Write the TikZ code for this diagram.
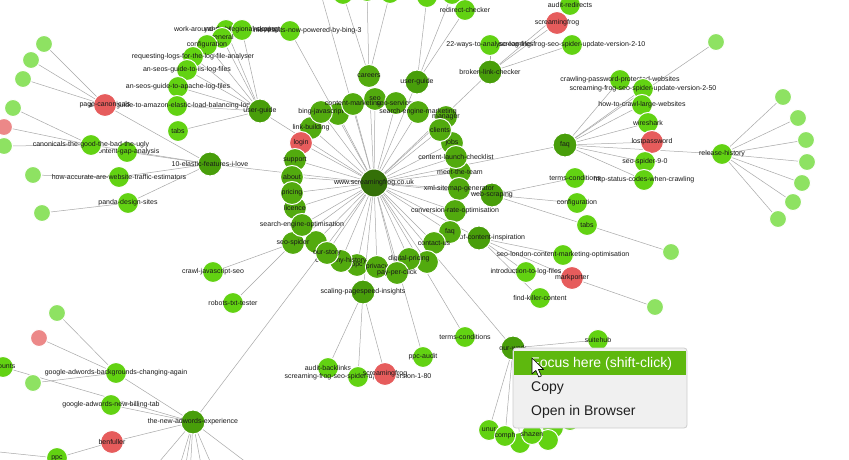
\documentclass[tikz,border=0pt]{standalone}
\usepackage{fontspec}
\setmainfont{Liberation Sans}
\definecolor{cdark}{RGB}{52,112,8}
\definecolor{cmid}{RGB}{72,158,10}
\definecolor{cring}{RGB}{82,170,14}
\definecolor{cbright}{RGB}{98,210,18}
\definecolor{cleaf}{RGB}{142,226,98}
\definecolor{cred}{RGB}{230,92,92}
\definecolor{cleafred}{RGB}{236,136,136}
\definecolor{cedge}{RGB}{168,168,168}
\definecolor{cmenu}{RGB}{240,240,240}
\definecolor{cmenuline}{RGB}{205,205,205}
\definecolor{cband}{RGB}{94,184,14}
\newcommand\GN[3]{\node[#2] (#1-c) at (#1) {}; \node[lbl] (#1-t) at (#1) {#3};}
\begin{document}
\begin{tikzpicture}[x=1pt,y=-1pt,
  gnbase/.style={circle, draw=white, line width=1pt, inner sep=0pt, minimum size=#1},
  ctr/.style={gnbase=28pt, fill=cdark},
  hub/.style={gnbase=24pt, fill=cmid},
  ring/.style={gnbase=23pt, fill=cring},
  kid/.style={gnbase=21pt, fill=cbright},
  leaf/.style={gnbase=17pt, fill=cleaf},
  redn/.style={gnbase=23pt, fill=cred},
  redleaf/.style={gnbase=17pt, fill=cleafred},
  lbl/.style={font=\fontsize{7}{8}\selectfont, inner sep=0pt, text=black!90},
  edge/.style={draw=cedge, line width=0.5pt},
  menutxt/.style={font=\fontsize{14}{16}\selectfont, inner sep=0pt, anchor=west}]
\useasboundingbox (0,0) rectangle (849,460);
\clip (0,0) rectangle (849,460);
\fill[white] (0,0) rectangle (849,460);
% ---------- coordinates ----------
\coordinate (C) at (374,183);
% ring
\coordinate (rLink) at (311,128);
\coordinate (rLogin) at (301,143);
\coordinate (rBingjs) at (321,112);
\coordinate (rHid1) at (338,114);
\coordinate (rCm) at (353,104);
\coordinate (rSeo) at (375,99);
\coordinate (rSeos) at (396,103);
\coordinate (rSem) at (418,112);
\coordinate (rMgr) at (446,117);
\coordinate (rClients) at (440,130);
\coordinate (rJobs) at (452,143);
\coordinate (rClc) at (456,157);
\coordinate (rMtt) at (460,172);
\coordinate (rXml) at (459,189);
\coordinate (rCro) at (455,211);
\coordinate (rFaq) at (450,232);
\coordinate (rContact) at (434,243);
\coordinate (rDp2) at (427,262);
\coordinate (rDp) at (409,259);
\coordinate (rPpc) at (397,273);
\coordinate (rPriv) at (377,267);
\coordinate (rPpcx) at (357,265);
\coordinate (rHist) at (341,261);
\coordinate (rStory) at (327,253);
\coordinate (rSs2) at (316,242);
\coordinate (rSs) at (293,243);
\coordinate (rSeoOpt) at (302,225);
\coordinate (rLic) at (295,208);
\coordinate (rPricing) at (292,193);
\coordinate (rAbout) at (292,177);
\coordinate (rSupport) at (295,160);
% hubs
\coordinate (careers) at (369,76);
\coordinate (ugTop) at (417,82);
\coordinate (blc) at (490,72);
\coordinate (faqR) at (565,145);
\coordinate (web) at (492,195);
\coordinate (coi) at (479,238);
\coordinate (tcB) at (465,337);
\coordinate (ppcAudit) at (423,357);
\coordinate (spi) at (363,292);
\coordinate (ourw) at (513,348);
\coordinate (nae) at (193,422);
\coordinate (tef) at (210,164);
\coordinate (ugL) at (260,111);
\coordinate (bing3) at (290,31);
\coordinate (t0) at (317,-20);
\coordinate (t1) at (343,-6);
\coordinate (t2) at (367,-9);
\coordinate (t3) at (390,-7);
\coordinate (t4) at (427,-3);
\coordinate (t5) at (452,-6);
\coordinate (rc) at (465,10);
% broken link checker kids
\coordinate (w22) at (490,45);
\coordinate (sfT) at (557,23);
\coordinate (v210) at (572,45);
\coordinate (ar) at (570,5);
% faq right kids
\coordinate (cpp) at (620,80);
\coordinate (v250) at (643,89);
\coordinate (hcl) at (642,105);
\coordinate (wire) at (648,123);
\coordinate (lost) at (652,142);
\coordinate (s90) at (645,162);
\coordinate (http) at (644,180);
\coordinate (rh) at (722,154);
\coordinate (lfT) at (716,42);
\coordinate (rl1) at (783,97);
\coordinate (rl2) at (798,118);
\coordinate (rl3) at (806,140);
\coordinate (rl4) at (807,162);
\coordinate (rl5) at (802,183);
\coordinate (rl6) at (793,202);
\coordinate (rl7) at (778,219);
% web scraping kids
\coordinate (tcR) at (575,178);
\coordinate (confR) at (577,203);
\coordinate (tabsR) at (587,225);
\coordinate (lTabs) at (671,252);
% content inspiration kids
\coordinate (seol) at (563,255);
\coordinate (itl) at (526,272);
\coordinate (mp) at (572,278);
\coordinate (lMp) at (655,307);
\coordinate (fkc) at (540,298);
% our work kids
\coordinate (suite) at (598,340);
\coordinate (unur) at (489,430);
\coordinate (comph) at (505,436);
\coordinate (b3) at (520,443);
\coordinate (shazen) at (532,434);
\coordinate (b5) at (553,428);
\coordinate (b6) at (548,440);
\coordinate (b7) at (570,420);
% pagespeed kids
\coordinate (ab) at (328,368);
\coordinate (v180) at (358,377);
\coordinate (sfB) at (385,374);
% user guide left kids
\coordinate (tabsL) at (178,131);
\coordinate (amazon) at (177,106);
\coordinate (apache) at (178,87);
\coordinate (iis) at (187,70);
\coordinate (req) at (193,57);
\coordinate (conf) at (207,45);
\coordinate (work) at (226,30);
\coordinate (gen) at (222,38);
\coordinate (yandex) at (242,30);
% elastic kids
\coordinate (pc) at (105,105);
\coordinate (pl1) at (44,44);
\coordinate (pl2) at (31,60);
\coordinate (pl3) at (23,79);
\coordinate (canon) at (91,145);
\coordinate (cl1) at (13,108);
\coordinate (cl2) at (4,127);
\coordinate (cl3) at (4,146);
\coordinate (cga) at (127,152);
\coordinate (hae) at (119,177);
\coordinate (hl1) at (33,175);
\coordinate (panda) at (128,203);
\coordinate (pdl1) at (42,213);
% seo spider kids
\coordinate (cjs) at (213,272);
\coordinate (robots) at (233,303);
% adwords cluster
\coordinate (gab) at (116,373);
\coordinate (gl1) at (57,313);
\coordinate (gl2) at (39,338);
\coordinate (gl3) at (33,383);
\coordinate (gnb) at (111,405);
\coordinate (benf) at (112,442);
\coordinate (ppcB) at (57,458);
\coordinate (nts) at (3,367);
\coordinate (o1) at (148,475);
\coordinate (o2) at (177,475);
\coordinate (o3) at (184,475);
\coordinate (o4) at (190,475);
\coordinate (o5) at (203,475);
\coordinate (o6) at (216,475);
\coordinate (o7) at (263,475);
\coordinate (o8) at (-20,450);
% ---------- edges ----------
\foreach \b in {rLink,rLogin,rBingjs,rHid1,rCm,rSeo,rSeos,rSem,rMgr,rClients,rJobs,rClc,rMtt,rXml,rCro,rFaq,rContact,rDp2,rDp,rPpc,rPriv,rPpcx,rHist,rStory,rSs2,rSs,rSeoOpt,rLic,rPricing,rAbout,rSupport,careers,ugTop,blc,faqR,web,coi,tcB,ppcAudit,spi,ourw,nae,tef,ugL,bing3,t0}
  {\draw[edge] (C) -- (\b);}
\foreach \a/\b in {careers/t1,careers/t2,careers/t3,ugTop/t4,ugTop/t5,ugTop/rc,
  blc/w22,blc/sfT,blc/v210,blc/ar,
  faqR/cpp,faqR/v250,faqR/hcl,faqR/wire,faqR/lost,faqR/s90,faqR/http,faqR/rh,faqR/lfT,
  rh/rl1,rh/rl2,rh/rl3,rh/rl4,rh/rl5,rh/rl6,rh/rl7,
  web/tcR,web/confR,web/tabsR,tabsR/lTabs,
  coi/seol,coi/itl,coi/mp,coi/fkc,mp/lMp,
  ourw/suite,ourw/unur,ourw/comph,ourw/b3,ourw/shazen,ourw/b5,ourw/b6,ourw/b7,
  spi/ab,spi/v180,spi/sfB,
  ugL/tabsL,ugL/amazon,ugL/apache,ugL/iis,ugL/req,ugL/conf,ugL/gen,ugL/work,ugL/yandex,
  tef/pc,tef/canon,tef/cga,tef/hae,tef/panda,
  pc/pl1,pc/pl2,pc/pl3,canon/cl1,canon/cl2,canon/cl3,hae/hl1,panda/pdl1,
  rSs/cjs,rSs/robots,
  nae/gab,nae/gnb,nae/benf,nae/nts,nae/o1,nae/o2,nae/o3,nae/o4,nae/o5,nae/o6,nae/o7,
  gab/gl1,gab/gl2,gab/gl3,benf/ppcB,ppcB/o8}
  {\draw[edge] (\a) -- (\b);}
% ---------- outer leaves ----------
\GN{pl1}{leaf}{} \GN{pl2}{leaf}{} \GN{pl3}{leaf}{}
\GN{cl1}{leaf}{} \GN{cl2}{redleaf}{} \GN{cl3}{leaf}{}
\GN{hl1}{leaf}{} \GN{pdl1}{leaf}{}
\GN{gl1}{leaf}{} \GN{gl2}{redleaf}{} \GN{gl3}{leaf}{}
\GN{lfT}{leaf}{} \GN{lTabs}{leaf}{} \GN{lMp}{leaf}{}
\GN{rl1}{leaf}{} \GN{rl2}{leaf}{} \GN{rl3}{leaf}{} \GN{rl4}{leaf}{}
\GN{rl5}{leaf}{} \GN{rl6}{leaf}{} \GN{rl7}{leaf}{}
% ---------- kids ----------
\GN{t1}{kid}{} \GN{t2}{kid}{} \GN{t3}{kid}{} \GN{t4}{kid}{} \GN{t5}{kid}{}
\GN{rc}{kid}{redirect-checker}
\GN{ar}{kid}{audit-redirects}
\GN{w22}{kid}{22-ways-to-analyse-log-files}
\GN{v210}{kid}{screaming-frog-seo-spider-update-version-2-10}
\GN{sfT}{redn}{screamingfrog}
\GN{cpp}{kid}{crawling-password-protected-websites}
\GN{v250}{kid}{screaming-frog-seo-spider-update-version-2-50}
\GN{hcl}{kid}{how-to-crawl-large-websites}
\GN{wire}{kid}{wireshark}
\GN{lost}{redn}{lostpassword}
\GN{s90}{kid}{seo-spider-9-0}
\GN{http}{kid}{http-status-codes-when-crawling}
\GN{rh}{kid}{release-history}
\GN{tcR}{kid}{terms-conditions}
\GN{confR}{kid}{configuration}
\GN{tabsR}{kid}{tabs}
\GN{seol}{kid}{seo-london-content-marketing-optimisation}
\GN{itl}{kid}{introduction-to-log-files}
\GN{mp}{redn}{markporter}
\GN{fkc}{kid}{find-killer-content}
\GN{suite}{kid}{suitehub}
\GN{b7}{kid}{} \GN{b5}{kid}{} \GN{b6}{kid}{} \GN{b3}{kid}{}
\GN{unur}{kid}{unur}
\GN{comph}{kid}{comph}
\GN{shazen}{kid}{shazen}
\GN{ab}{kid}{audit-backlinks}
\GN{v180}{kid}{screaming-frog-seo-spider-update-version-1-80}
\GN{sfB}{redn}{screamingfrog}
\GN{tcB}{kid}{terms-conditions}
\GN{ppcAudit}{kid}{ppc-audit}
\GN{bing3}{kid}{yahoo-organic-results-now-powered-by-bing-3}
\GN{work}{kid}{work-around-mobile-first-indexing}
\GN{yandex}{kid}{yandex-regional-support}
\GN{gen}{kid}{general}
\GN{conf}{kid}{configuration}
\GN{req}{kid}{requesting-logs-for-the-log-file-analyser}
\GN{iis}{kid}{an-seos-guide-to-iis-log-files}
\GN{apache}{kid}{an-seos-guide-to-apache-log-files}
\GN{amazon}{kid}{an-seos-guide-to-amazon-elastic-load-balancing-log-files}
\GN{tabsL}{kid}{tabs}
\GN{pc}{redn}{page-canonicals}
\GN{cga}{kid}{content-gap-analysis}
\GN{canon}{kid}{canonicals-the-good-the-bad-the-ugly}
\GN{hae}{kid}{how-accurate-are-website-traffic-estimators}
\GN{panda}{kid}{panda-design-sites}
\GN{cjs}{kid}{crawl-javascript-seo}
\GN{robots}{kid}{robots-txt-tester}
\GN{gl3}{leaf}{}
\GN{gab}{kid}{google-adwords-backgrounds-changing-again}
\GN{gnb}{kid}{google-adwords-new-billing-tab}
\GN{ppcB}{kid}{ppc}
\GN{benf}{redn}{benfuller}
\node[kid] (nts-c) at (nts) {};
\node[lbl, anchor=east] (nts-t) at (15.5,366) {accounts};
% ---------- hubs ----------
\GN{careers}{ring}{careers}
\GN{ugTop}{hub}{user-guide}
\GN{blc}{hub}{broken-link-checker}
\GN{faqR}{hub}{faq}
\GN{web}{hub}{web-scraping}
\GN{coi}{hub}{sources-of-content-inspiration}
\GN{spi}{hub}{scaling-pagespeed-insights}
\GN{ourw}{hub}{our-work}
\GN{nae}{hub}{the-new-adwords-experience}
\GN{tef}{hub}{10-elastic-features-i-love}
\GN{ugL}{hub}{user-guide}
% ---------- ring ----------
\GN{rLink}{ring}{link-building}
\GN{rLogin}{redn}{login}
\GN{rHid1}{ring}{}
\GN{rBingjs}{ring}{bing-javascript}
\GN{rSeo}{ring}{seo}
\GN{rCm}{ring}{content-marketing}
\GN{rSeos}{ring}{seo-services}
\GN{rMgr}{ring}{manager}
\GN{rSem}{ring}{search-engine-marketing}
\GN{rJobs}{ring}{jobs}
\GN{rClients}{ring}{clients}
\GN{rMtt}{ring}{meet-the-team}
\GN{rClc}{ring}{content-launch-checklist}
\GN{rXml}{ring}{xml-sitemap-generator}
\GN{rCro}{ring}{conversion-rate-optimisation}
\GN{rFaq}{ring}{faq}
\GN{rContact}{ring}{contact-us}
\GN{rDp2}{ring}{}
\GN{rDp}{ring}{digital-pricing}
\GN{rPpcx}{ring}{ppc}
\GN{rHist}{ring}{company-history}
\GN{rPriv}{ring}{privacy}
\GN{rPpc}{ring}{pay-per-click}
\GN{rSs2}{ring}{}
\GN{rSs}{ring}{seo-spider}
\GN{rStory}{ring}{our-story}
\GN{rSupport}{ring}{support}
\GN{rLic}{ring}{licence}
\GN{rAbout}{ring}{about}
\GN{rPricing}{ring}{pricing}
\GN{rSeoOpt}{ring}{search-engine-optimisation}
% ---------- centre ----------
\GN{C}{ctr}{www.screamingfrog.co.uk}
% ---------- context menu ----------
\draw[fill=cmenu, draw=cmenuline, line width=0.8pt, rounded corners=3pt] (513,348) rectangle (687,428);
\fill[cband] (514,351) rectangle (686,375);
\node[menutxt, text=white] (m1) at (531,363.5) {Focus here (shift-click)};
\node[menutxt, text=black!88] (m2) at (531,388) {Copy};
\node[menutxt, text=black!88] (m3) at (531,412) {Open in Browser};
% cursor
\draw[fill=white, draw=black, line width=0.6pt, line join=round]
  (532,358) -- ++(0,16) -- ++(3.8,-3.6) -- ++(3,6.6) -- ++(2.6,-1.1) -- ++(-3,-6.4) -- ++(5.2,0) -- cycle;
\end{tikzpicture}
\end{document}
